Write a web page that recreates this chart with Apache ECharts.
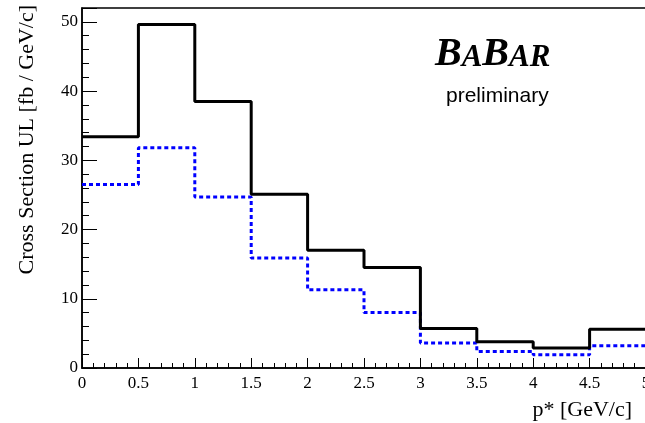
<!DOCTYPE html>
<html>
<head>
<meta charset="utf-8">
<script src="https://cdn.jsdelivr.net/npm/echarts@6/dist/echarts.min.js"></script>
<style>html,body{margin:0;padding:0;background:#fff;}#c{width:645px;height:423px;}</style>
</head>
<body>
<div id="c"></div>
<script>
var binEdges = [0, 0.5, 1, 1.5, 2, 2.5, 3, 3.5, 4, 4.5, 5];
var solidUL = [33.4, 49.6, 38.5, 25.1, 17.0, 14.5, 5.7, 3.8, 2.9, 5.6];
var dottedUL = [26.5, 31.8, 24.7, 15.9, 11.3, 8.0, 3.6, 2.4, 1.9, 3.2];
var yTickLabels = [0, 10, 20, 30, 40, 50];

function stepData(vals) {
  var d = [];
  for (var i = 0; i < vals.length; i++) d.push([binEdges[i], vals[i]]);
  d.push([binEdges[binEdges.length - 1], vals[vals.length - 1]]);
  return d;
}

var serif = 'Liberation Serif';
var chart = echarts.init(document.getElementById('c'), null, {renderer: 'canvas'});
chart.setOption({
  animation: false,
  grid: {left: 82, top: 8, width: 564, height: 360, containLabel: false, outerBoundsMode: 'none',
         show: true, borderColor: '#000', borderWidth: 1.5, backgroundColor: 'transparent'},
  xAxis: {
    type: 'value', min: 0, max: 5, interval: 0.5,
    axisLine: {show: true, onZero: false, lineStyle: {color: '#000', width: 1.5}},
    axisTick: {show: true, inside: true, length: 10, lineStyle: {color: '#000', width: 1}},
    minorTick: {show: true, splitNumber: 5, length: 5, lineStyle: {color: '#000', width: 1}},
    splitLine: {show: false},
    axisLabel: {color: '#000', fontFamily: serif, fontSize: 17, margin: 7, showMaxLabel: true, showMinLabel: true}
  },
  yAxis: {
    type: 'value', min: 0, max: 52, interval: 10,
    axisLine: {show: true, lineStyle: {color: '#000', width: 1.5}},
    axisTick: {show: true, inside: true, length: 15, lineStyle: {color: '#000', width: 1}},
    minorTick: {show: true, splitNumber: 5, length: 7, lineStyle: {color: '#000', width: 1}},
    splitLine: {show: false},
    axisLabel: {color: '#000', fontFamily: serif, fontSize: 17, margin: 4,
      formatter: function (v) { return yTickLabels.indexOf(v) >= 0 ? String(v) : ''; }}
  },
  series: [
    {type: 'line', step: 'end', data: stepData(dottedUL), symbol: 'none',
     lineStyle: {color: '#0000ff', width: 3, type: [4, 3]}, z: 2},
    {type: 'line', step: 'end', data: stepData(solidUL), symbol: 'none',
     lineStyle: {color: '#000', width: 3, type: 'solid'}, z: 3}
  ],
  graphic: [
    {type: 'text', x: 27, y: 5, rotation: Math.PI / 2,
     style: {text: 'Cross Section UL [fb / GeV/c]', fontFamily: serif, fontSize: 22, fill: '#000', align: 'right', verticalAlign: 'middle'}},
    {type: 'text', x: 632, y: 410,
     style: {text: 'p* [GeV/c]', fontFamily: serif, fontSize: 22, fill: '#000', align: 'right', verticalAlign: 'middle'}},
    {type: 'text', x: 435, y: 75,
     style: {text: '{b|B}{a|A}{b|B}{a|A}{a|R}', align: 'left', verticalAlign: 'bottom',
       rich: {
         b: {fontFamily: serif, fontSize: 40, fontWeight: 'bold', fontStyle: 'italic', fill: '#000', verticalAlign: 'bottom'},
         a: {fontFamily: serif, fontSize: 31, fontWeight: 'bold', fontStyle: 'italic', fill: '#000', verticalAlign: 'bottom', padding: [0, 0, 2, 0]}
       }}},
    {type: 'text', x: 446, y: 96,
     style: {text: 'preliminary', fontFamily: 'Liberation Sans', fontSize: 21, fill: '#000', align: 'left', verticalAlign: 'middle'}}
  ]
});
</script>
</body>
</html>
